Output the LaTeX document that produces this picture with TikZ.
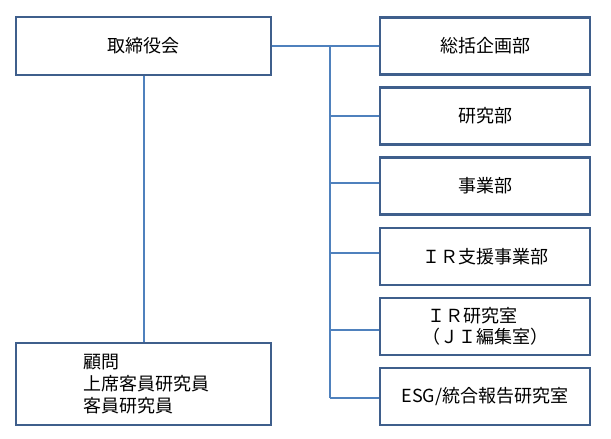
\documentclass[tikz,border=0pt]{standalone}
\usepackage{fontspec}
\setmainfont{Noto Sans CJK JP}
\definecolor{boxline}{HTML}{3F5F8C}
\definecolor{conn}{HTML}{4F81BD}
\begin{document}
\begin{tikzpicture}[x=0.75pt,y=-0.75pt,
  orgbox/.style={draw=boxline,line width=1.6pt,fill=white,inner sep=2pt,
    font=\fontsize{13.5}{16}\selectfont},
  leftbox/.style={orgbox,minimum width=255*0.75pt},
  rightbox/.style={orgbox,minimum width=210*0.75pt,minimum height=57*0.75pt},
  link/.style={draw=conn,line width=1.5pt}]
\useasboundingbox (0,0) rectangle (611,439);
\node[leftbox,minimum height=58*0.75pt] (board) at (143.5,46) {取締役会};
\node[leftbox,minimum height=82*0.75pt,align=left,
  font=\fontsize{13.5}{16.2}\selectfont] (adv) at (143.5,384)
  {\makebox[150pt][l]{\hspace{30pt}顧問}\\\makebox[150pt][l]{\hspace{30pt}上席客員研究員}\\\makebox[150pt][l]{\hspace{30pt}客員研究員}};
\node[rightbox] (r1) at (485,46) {総括企画部};
\node[rightbox] (r2) at (485,116) {研究部};
\node[rightbox] (r3) at (485,186) {事業部};
\node[rightbox] (r4) at (485,256.5) {ＩＲ支援事業部};
\node[rightbox,align=left,font=\fontsize{13.5}{16}\selectfont] (r5) at (485,326.5) {\hspace{4pt}ＩＲ研究室\\（ＪＩ編集室）};
\node[rightbox] (r6) at (485,396.5) {ESG/統合報告研究室};
\coordinate (t1) at (330,46);
\coordinate (t2) at (330,116);
\coordinate (t3) at (330,183);
\coordinate (t4) at (330,253);
\coordinate (t5) at (330,330);
\coordinate (t6) at (330,398);
\draw[link] (board.east) -- (r1.west);
\draw[link] (t1) -- (t6);
\draw[link] (t2) -- (t2 -| r2.west);
\draw[link] (t3) -- (t3 -| r3.west);
\draw[link] (t4) -- (t4 -| r4.west);
\draw[link] (t5) -- (t5 -| r5.west);
\draw[link] (t6) -- (t6 -| r6.west);
\draw[link] (board.south) -- (adv.north);
\end{tikzpicture}
\end{document}
